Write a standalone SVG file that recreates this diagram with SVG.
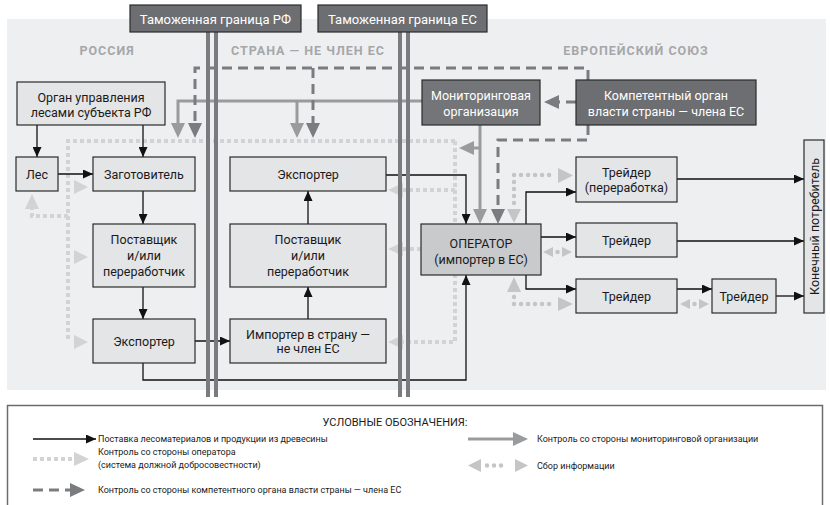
<svg xmlns="http://www.w3.org/2000/svg" width="830" height="505" viewBox="0 0 830 505">
<style>
text{font-family:Roboto,"Liberation Sans",sans-serif;font-size:12.5px;fill:#1a1a1a;text-anchor:middle}
.w{fill:#fff}
.sec{font-weight:bold;fill:#a6a7a9;letter-spacing:1px;font-size:12.5px}
.lg{font-size:9px;text-anchor:start}
.box{fill:#e4e5e7;stroke:#2a2a2a;stroke-width:1.2}
.dk{fill:#6d6e71;stroke:#2a2a2a;stroke-width:1.2}
.op{fill:#c9cacc;stroke:#2a2a2a;stroke-width:1.2}
.blk{fill:none;stroke:#111;stroke-width:1.3;marker-end:url(#mB)}
.mon{fill:none;stroke:#9a9b9d;stroke-width:3;marker-end:url(#mM)}
.dsh{fill:none;stroke:#7b7c7f;stroke-width:3;stroke-dasharray:10 6;marker-end:url(#mD)}
.opc{fill:none;stroke:#d2d3d5;stroke-width:4;stroke-dasharray:4 3}
.opa{fill:none;stroke:#d2d3d5;stroke-width:4;stroke-dasharray:4 3;marker-end:url(#mL)}
.inf{fill:none;stroke:#c4c5c7;stroke-width:4.5;stroke-linecap:round;stroke-dasharray:0.01 7}
.lt{fill:#d2d3d5}
.it{fill:#c4c5c7}
.brd{stroke:#7a7b7e;stroke-width:4}
</style>
<defs>
<marker id="mB" viewBox="0 0 10 9" refX="10" refY="4.5" markerWidth="10" markerHeight="9" markerUnits="userSpaceOnUse" orient="auto"><path d="M0,0 L10,4.5 L0,9z" fill="#111"/></marker>
<marker id="mM" viewBox="0 0 15 14" refX="11" refY="7" markerWidth="15" markerHeight="14" markerUnits="userSpaceOnUse" orient="auto"><path d="M0,0 L15,7 L0,14z" fill="#9a9b9d"/></marker>
<marker id="mD" viewBox="0 0 15 14" refX="11" refY="7" markerWidth="15" markerHeight="14" markerUnits="userSpaceOnUse" orient="auto"><path d="M0,0 L15,7 L0,14z" fill="#7b7c7f"/></marker>
<marker id="mL" viewBox="0 0 15 14" refX="11" refY="7" markerWidth="15" markerHeight="14" markerUnits="userSpaceOnUse" orient="auto"><path d="M0,0 L15,7 L0,14z" fill="#d2d3d5"/></marker>
</defs>
<rect x="0" y="0" width="830" height="505" fill="#fff"/>
<rect x="7" y="19" width="819" height="371" fill="#eeeff1"/>
<text class="sec" x="107" y="54.5">РОССИЯ</text>
<text class="sec" x="308" y="54.5">СТРАНА — НЕ ЧЛЕН ЕС</text>
<text class="sec" x="636" y="54.5">ЕВРОПЕЙСКИЙ СОЮЗ</text>

<g id="connectors">
<path class="opc" d="M455,141 H68 V342"/>
<path class="opa" d="M455,141 V342 H392"/>
<path class="opa" d="M455,190 H392"/>
<path class="opa" d="M421,249 H392"/>
<path class="opa" d="M68,216 H32 V198"/>
<polygon class="lt" points="74,180 88,187 74,194"/>
<polygon class="lt" points="74,250 88,257 74,264"/>
<polygon class="lt" points="74,335 88,342 74,349"/>
<path class="mon" d="M422,101 H178 V134"/>
<path class="mon" d="M297,101 V134"/>
<path class="mon" d="M480,125 V220"/>
<path class="mon" d="M480,148 H463"/>
<path class="dsh" d="M588,80 V68 H195 V134"/>
<path class="dsh" d="M313,68 V134"/>
<path class="dsh" d="M576,102 H548"/>
<path class="dsh" d="M588,125 V140 H498 V220"/>
<path class="inf" d="M514,203 V175 H552"/>
<polygon class="it" points="507,209 521,209 514,223"/>
<polygon class="it" points="558,168 573,175.5 558,183"/>
<path class="inf" d="M514,297 V304 H552"/>
<polygon class="it" points="507,292 521,292 514,277"/>
<polygon class="it" points="558,297 573,304 558,311"/>
<polygon class="it" points="553,247 543,252 553,257"/>
<circle class="it" cx="557.5" cy="252" r="2.3"/>
<polygon class="it" points="562,247 572,252 562,257"/>
<polygon class="it" points="690,299 680,304 690,309"/>
<circle class="it" cx="694.5" cy="304" r="2.3"/>
<polygon class="it" points="699,299 709,304 699,309"/>
<path class="blk" d="M37,125 V157"/>
<path class="blk" d="M143,125 V157"/>
<path class="blk" d="M58,174 H93"/>
<path class="blk" d="M143,191 V224"/>
<path class="blk" d="M143,287 V319"/>
<path class="blk" d="M195,341 H230"/>
<path class="blk" d="M308,319 V287"/>
<path class="blk" d="M308,224 V191"/>
<path class="blk" d="M386,175 H466 V224"/>
<path class="blk" d="M143,363 V380 H466 V275"/>
<path class="blk" d="M526,224 V192 H576"/>
<path class="blk" d="M541,237 H576"/>
<path class="blk" d="M526,275 V289 H576"/>
<path class="blk" d="M677,179 H804"/>
<path class="blk" d="M677,241 H804"/>
<path class="blk" d="M677,289 H712"/>
<path class="blk" d="M776,296 H804"/>
</g>

<g id="borders">
<line class="brd" x1="208" y1="32" x2="208" y2="397"/>
<line class="brd" x1="216" y1="32" x2="216" y2="397"/>
<line class="brd" x1="400" y1="32" x2="400" y2="397"/>
<line class="brd" x1="408" y1="32" x2="408" y2="397"/>
</g>
<g id="border-rf"><rect class="dk" x="130" y="5" width="171" height="27"/><text class="w" x="215.5" y="23.5" style="font-size:13px">Таможенная граница РФ</text></g>
<g id="border-eu"><rect class="dk" x="318" y="5" width="169" height="27"/><text class="w" x="402.5" y="23.5" style="font-size:13px">Таможенная граница ЕС</text></g>

<g id="organ"><rect class="box" x="17" y="82" width="148" height="43"/><text x="91" y="101.5">Орган управления</text><text x="91" y="116.5">лесами субъекта РФ</text></g>
<g id="les"><rect class="box" x="16" y="157" width="42" height="34"/><text x="37" y="178.5">Лес</text></g>
<g id="zagotovitel"><rect class="box" x="93" y="157" width="102" height="34"/><text x="144" y="178.5">Заготовитель</text></g>
<g id="postavshik-ru"><rect class="box" x="93" y="224" width="102" height="63"/><text x="144" y="243.5">Поставщик</text><text x="144" y="259.5">и/или</text><text x="144" y="275.5">переработчик</text></g>
<g id="exporter-ru"><rect class="box" x="93" y="319" width="102" height="44"/><text x="144" y="345.5">Экспортер</text></g>
<g id="exporter-3"><rect class="box" x="230" y="157" width="156" height="34"/><text x="308" y="178.5">Экспортер</text></g>
<g id="postavshik-3"><rect class="box" x="230" y="224" width="156" height="63"/><text x="308" y="243.5">Поставщик</text><text x="308" y="259.5">и/или</text><text x="308" y="275.5">переработчик</text></g>
<g id="importer-3"><rect class="box" x="230" y="319" width="156" height="44"/><text x="308" y="338.5">Импортер в страну —</text><text x="308" y="352.5">не член ЕС</text></g>
<g id="monitoring"><rect class="dk" x="422" y="80" width="118" height="45" style="fill:#747578"/><text class="w" x="481" y="99.5">Мониторинговая</text><text class="w" x="481" y="116">организация</text></g>
<g id="competent"><rect class="dk" x="576" y="80" width="180" height="45"/><text class="w" x="666" y="99.5">Компетентный орган</text><text class="w" x="666" y="116">власти страны — члена ЕС</text></g>
<g id="operator"><rect class="op" x="421" y="224" width="120" height="51"/><text x="481" y="247.5">ОПЕРАТОР</text><text x="481" y="263.5">(импортер в ЕС)</text></g>
<g id="trader-proc"><rect class="box" x="576" y="157" width="101" height="45"/><text x="626.5" y="176.5">Трейдер</text><text x="626.5" y="191.5">(переработка)</text></g>
<g id="trader-2"><rect class="box" x="576" y="223" width="101" height="34"/><text x="626.5" y="244.5">Трейдер</text></g>
<g id="trader-3"><rect class="box" x="576" y="279" width="101" height="34"/><text x="626.5" y="300.5">Трейдер</text></g>
<g id="trader-4"><rect class="box" x="712" y="279" width="64" height="34"/><text x="744" y="300.5">Трейдер</text></g>
<g id="consumer"><rect class="box" x="804" y="140" width="20" height="173"/><text transform="translate(818.5,226.5) rotate(-90)">Конечный потребитель</text></g>

<g id="legend">
<rect x="7.5" y="405.5" width="815" height="120" fill="#fff" stroke="#6b6c6e" stroke-width="1.5"/>
<text x="395" y="426" style="font-size:11px">УСЛОВНЫЕ ОБОЗНАЧЕНИЯ:</text>
<path class="blk" d="M33,439 H96"/>
<text class="lg" x="98" y="442">Поставка лесоматериалов и продукции из древесины</text>
<path class="opa" d="M33,459 H85"/>
<text class="lg" x="98" y="455">Контроль со стороны оператора</text>
<text class="lg" x="98" y="468">(система должной добросовестности)</text>
<path class="dsh" d="M33,490 H81"/>
<text class="lg" x="98" y="493">Контроль со стороны компетентного органа власти страны — члена ЕС</text>
<path class="mon" d="M468,439 H524"/>
<text class="lg" x="537" y="442">Контроль со стороны мониторинговой организации</text>
<polygon class="it" points="481,459 468,465.5 481,472"/>
<path class="inf" d="M487,465.5 H508"/>
<polygon class="it" points="515,459 528,465.5 515,472"/>
<text class="lg" x="537" y="468.5">Сбор информации</text>
</g>
</svg>
